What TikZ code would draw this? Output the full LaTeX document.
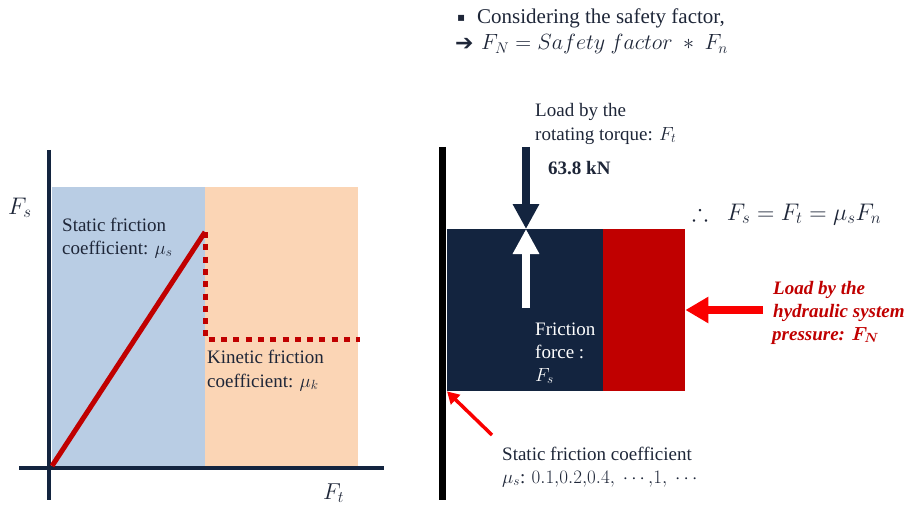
\RequirePackage{fix-cm}
\documentclass[tikz,border=0pt]{standalone}
\usepackage{amsmath,amssymb}
\usepackage{fontspec}
\setmainfont{Liberation Serif}
\newfontfamily\dejavu{DejaVu Sans}
\usetikzlibrary{arrows.meta}
\definecolor{navy}{RGB}{19,36,63}
\definecolor{darkred}{RGB}{192,0,0}
\definecolor{brightred}{RGB}{250,0,0}
\definecolor{chartblue}{RGB}{185,205,228}
\definecolor{chartorange}{RGB}{251,213,181}
\definecolor{textc}{RGB}{30,38,56}
\tikzset{
  lbl/.style={anchor=base west, inner sep=0pt, text=textc, font=\fontsize{19}{23}\selectfont},
  toplbl/.style={anchor=base west, inner sep=0pt, text=textc, font=\fontsize{21}{25}\selectfont},
  redlbl/.style={anchor=base west, inner sep=0pt, text=darkred, font=\fontsize{19}{23}\selectfont\bfseries\itshape},
  whitelbl/.style={anchor=base west, inner sep=0pt, text=white, font=\fontsize{19}{23}\selectfont},
  axislbl/.style={anchor=base west, inner sep=0pt, text=textc, font=\fontsize{24}{28}\selectfont},
  axis/.style={draw=navy, line width=4pt},
  block/.style={anchor=north west, inner sep=0pt, minimum height=162pt},
  bigarrow/.style={line width=7.5pt, -{Triangle[width=25pt,length=25pt]}},
}
\begin{document}
\begin{tikzpicture}[x=1pt,y=-1pt]
\useasboundingbox (0,0) rectangle (918,508);

% ---------- top text ----------
\node[toplbl, font=\dejavu\fontsize{12}{14}\selectfont] (bul) at (457,22) {▪};
\node[toplbl] (cons) at (477,24) {Considering the safety factor,};
\node[toplbl, font=\dejavu\bfseries\fontsize{22}{24}\selectfont] (arr) at (455,51) {➔};
\node[toplbl, font=\fontsize{22}{26}\selectfont] (eqtop) at (481,50) {$F_N = Safety\ factor\ \ast\ F_n$};

% ---------- left chart ----------
\fill[chartblue] (52,187) rectangle (205,468);
\fill[chartorange] (205,187) rectangle (358,468);
\coordinate (yt) at (49,150);
\coordinate (yb) at (49,500);
\coordinate (xl) at (19,468);
\coordinate (xr) at (384,468);
\draw[axis] (yt) -- (yb);
\draw[axis] (xl) -- (xr);
\coordinate (O) at (52,466);
\coordinate (peak) at (205,232);
\coordinate (drop) at (205,339);
\coordinate (kend) at (360,339);
\draw[darkred, line width=5pt] (O) -- (peak);
\draw[darkred, line width=5pt, dash pattern=on 6pt off 6.3pt] (peak) -- (drop) -- (kend);

\node[axislbl] (fsl) at (8,214) {$F_s$};
\node[axislbl, font=\fontsize{23}{27}\selectfont] (ftl) at (323,499) {$F_t$};
\node[lbl] (st1) at (62,231) {Static friction};
\node[lbl] (st2) at (62,254) {coefficient: $\mu_s$};
\node[lbl] (kn1) at (207,363) {Kinetic friction};
\node[lbl] (kn2) at (207,387) {coefficient: $\mu_k$};

% ---------- right figure ----------
\coordinate (wt) at (442.5,147);
\coordinate (wb) at (442.5,500);
\draw[black, line width=7pt] (wt) -- (wb);

\node[block, fill=navy, minimum width=156pt] (blk) at (447,229) {};
\node[block, fill=darkred, minimum width=82pt] (rblk) at (603,229) {};

\coordinate (dtop) at (526,147);
\draw[navy, bigarrow] (dtop) -- (dtop |- blk.north);
\coordinate (wbot) at (526,308);
\draw[white, bigarrow] (wbot) -- (wbot |- blk.north);
\coordinate (rtail) at (763,310);
\draw[brightred, bigarrow, -{Triangle[width=25pt,length=23pt]}] (rtail) -- (rtail -| rblk.east);
\coordinate (dtail) at (492,435);
\draw[brightred, line width=3.5pt, -{Triangle[width=13pt,length=12pt]}] (dtail) -- (blk.south west);

\node[lbl] (ld1) at (535,117) {Load by the};
\node[lbl] (ld2) at (535,140) {rotating torque: $F_t$};
\node[lbl, font=\fontsize{19}{23}\selectfont\bfseries] (kn) at (548,175) {63.8 kN};
\node[axislbl] (eq) at (692,220) {$\therefore\ \ F_s = F_t = \mu_s F_n$};

\node[redlbl] (hy1) at (773,294) {Load by the};
\node[redlbl] (hy2) at (773,317) {hydraulic system};
\node[redlbl] (hy3) at (772,340) {pressure: $\boldsymbol{F_N}$};

\node[whitelbl] (fr1) at (535,335) {Friction};
\node[whitelbl] (fr2) at (535,358) {force :};
\node[whitelbl] (fr3) at (535,381) {$F_s$};

\node[lbl] (sc1) at (502,460) {Static friction coefficient};
\node[lbl] (sc2) at (502,483) {$\mu_s$: $0.1{,}0.2{,}0.4,\ \cdots{,}1,\ \cdots$};
\end{tikzpicture}
\end{document}
